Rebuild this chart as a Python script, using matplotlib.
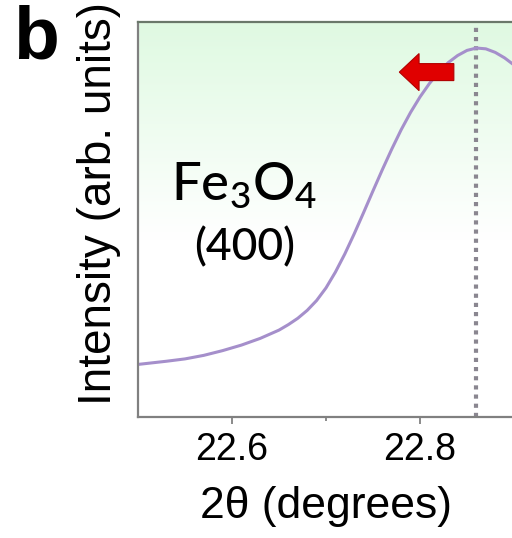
import numpy as np
import matplotlib.pyplot as plt
from matplotlib.patches import FancyArrow

# --- data (normalised intensity) ---
two_theta = [22.50, 22.53, 22.55, 22.57, 22.59, 22.61, 22.63, 22.65, 22.66,
             22.67, 22.68, 22.69, 22.70, 22.71, 22.72, 22.73, 22.74, 22.75,
             22.76, 22.77, 22.78, 22.79, 22.80, 22.81, 22.82, 22.83, 22.84,
             22.85, 22.86, 22.87, 22.88, 22.89, 22.90]
intensity = [0.132, 0.140, 0.146, 0.155, 0.167, 0.181, 0.198, 0.219, 0.233,
             0.249, 0.269, 0.294, 0.326, 0.366, 0.412, 0.463, 0.517, 0.572,
             0.626, 0.678, 0.727, 0.771, 0.810, 0.844, 0.873, 0.897, 0.915,
             0.928, 0.934, 0.932, 0.923, 0.909, 0.891]
peak_pos = 22.86
xticks = [22.6, 22.8]
xtick_labels = ["22.6", "22.8"]
minor_ticks = [22.7]

plt.rcParams['font.family'] = ['Liberation Sans', 'DejaVu Sans']

fig = plt.figure(figsize=(5.12, 5.38), dpi=100)
ax = fig.add_axes([138/512, 1 - 416.5/538, 376/512, 394.5/538])
ax.set_xlim(22.5, 22.9)
ax.set_ylim(0, 1)

# green-to-white background gradient
grad = np.linspace(0, 1, 256).reshape(-1, 1)
top = np.array([0.875, 0.978, 0.885])
white = np.array([1.0, 1.0, 1.0])
w = np.clip((grad - 0.45) / 0.55, 0, 1)  # 0 at lower part, 1 at top
img = (white * (1 - w) + top * w).reshape(256, 1, 3)
ax.imshow(img, extent=[22.5, 22.9, 0, 1],
          origin='lower', aspect='auto', zorder=0)

ax.plot(two_theta, intensity, color='#a58fcb', lw=2.2, zorder=2,
        solid_joinstyle='round')
ax.axvline(peak_pos, color='#8a8690', lw=3, ls=(0, (1, 1.2)), zorder=1)

# red arrow pointing to lower angle
arr = FancyArrow(22.836, 0.873, -0.058, 0, width=0.043, head_width=0.094,
                 head_length=0.021, length_includes_head=True,
                 color='#e00000', ec='#b00000', lw=0.8, zorder=3)
ax.add_patch(arr)

ax.text(22.613, 0.549, r"Fe$_\mathregular{3}$O$_\mathregular{4}$", fontsize=38,
        family=['Lato', 'DejaVu Sans'], fontweight='medium',
        ha='center', va='baseline')
ax.text(22.613, 0.395, "(400)", fontsize=32, family=['Lato', 'DejaVu Sans'],
        fontweight='medium', ha='center', va='baseline')

ax.set_xticks(xticks)
ax.set_xticklabels(xtick_labels)
ax.set_xticks(minor_ticks, minor=True)
ax.set_yticks([])
ax.tick_params(axis='x', which='major', length=5, width=1.2, color='#777777',
               labelsize=27, pad=6)
ax.tick_params(axis='x', which='minor', length=3, width=1.2, color='#777777')

for s in ['left', 'bottom']:
    ax.spines[s].set_color('#808080')
    ax.spines[s].set_linewidth(1.6)
ax.spines['top'].set_color('#6a786a')
ax.spines['top'].set_linewidth(1.6)
ax.spines['right'].set_visible(False)

ax.set_xlabel("2θ (degrees)", fontsize=32)
ax.xaxis.set_label_coords(0.5, -0.175)
ax.set_ylabel("Intensity (arb. units)", fontsize=33)
ax.yaxis.set_label_coords(-0.045, 0.54)

fig.text(36/512, 1 - 39/538, "b", fontsize=54, fontweight='bold',
         ha='center', va='center')

fig.savefig("out.png", dpi=100)
